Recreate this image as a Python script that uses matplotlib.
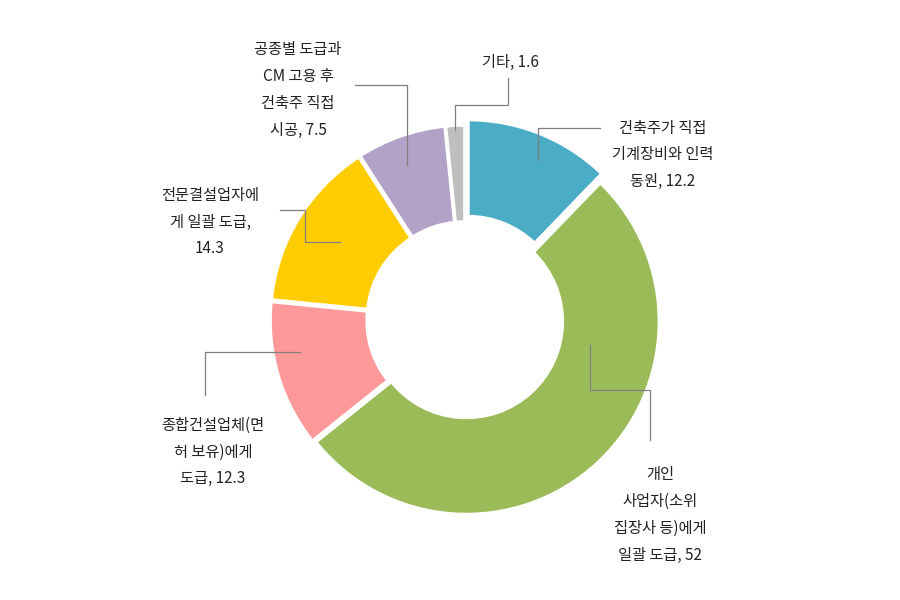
import matplotlib.pyplot as plt

plt.rcParams["font.family"] = ["Noto Sans CJK KR", "Noto Sans CJK JP", "Noto Sans CJK SC", "DejaVu Sans"]

# ------------------------------------
# Data
# ------------------------------------
labels = [
    "건축주가 직접\n기계장비와 인력\n동원, 12.2",
    "개인\n사업자(소위\n집장사 등)에게\n일괄 도급, 52",
    "종합건설업체(면\n허 보유)에게\n도급, 12.3",
    "전문결설업자에\n게 일괄 도급,\n14.3",
    "공종별 도급과\nCM 고용 후\n건축주 직접\n시공, 7.5",
    "기타, 1.6",
]
values = [12.2, 52, 12.3, 14.3, 7.5, 1.6]
colors = ["#4BACC6", "#9BBB59", "#FF9999", "#FFCC00", "#B3A2C7", "#BFBFBF"]

# ------------------------------------
# Figure (pixel-like coordinates, y up)
# ------------------------------------
fig = plt.figure(figsize=(9, 6), dpi=100)
ax = fig.add_axes([0, 0, 1, 1])

cx, cy, r = 465, 280, 193
ax.pie(
    values,
    colors=colors,
    startangle=90,
    counterclock=False,
    center=(cx, cy),
    radius=r,
    explode=[8, 2, 2, 2, 2, 2],
    wedgeprops=dict(width=97, edgecolor="white", linewidth=2.5),
    frame=True,
)
ax.set_xlim(0, 900)
ax.set_ylim(0, 600)
ax.set_aspect("equal")
ax.axis("off")

# label text centres and leader lines (image coords converted to y-up)
label_pos = [(663, 155), (660, 515), (213, 452), (210, 222), (298, 90), (510, 62)]
leaders = [
    [(538, 160), (538, 128), (600, 128)],
    [(590, 345), (590, 390), (650, 390), (650, 440)],
    [(300, 352), (205, 352), (205, 395)],
    [(340, 242), (305, 242), (305, 210), (280, 210)],
    [(407, 165), (407, 85), (355, 85)],
    [(455, 130), (455, 105), (508, 105), (508, 78)],
]

for text, (lx, ly), pts in zip(labels, label_pos, leaders):
    ax.plot([p[0] for p in pts], [600 - p[1] for p in pts],
            color="#7F7F7F", linewidth=0.9)
    ax.text(lx, 600 - ly, text, ha="center", va="center",
            fontsize=11, linespacing=1.75, color="#222222")

fig.savefig("out.png", dpi=100)
